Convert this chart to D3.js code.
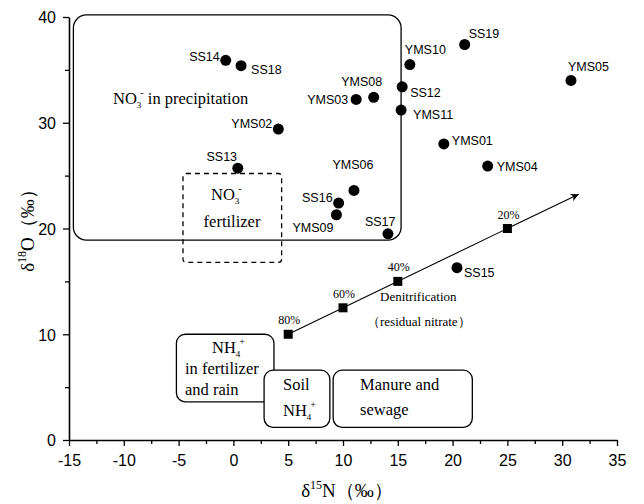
<!DOCTYPE html>
<html>
<head>
<meta charset="utf-8">
<script src="https://cdn.jsdelivr.net/npm/d3@7"></script>
<style>
  html, body { margin: 0; padding: 0; background: #fff; }
  svg { display: block; }
</style>
</head>
<body>
<svg id="chart" width="644" height="504"></svg>
<script>
// Sample isotope values: δ15N and δ18O of nitrate (‰)
const sampleNames = ["SS14","SS18","YMS02","SS13","YMS03","YMS08","YMS10","SS12","YMS11",
  "SS19","YMS05","YMS01","YMS04","YMS06","SS16","YMS09","SS17","SS15"];
const d15N = [-0.7, 0.7, 4.1, 0.4, 11.2, 12.8, 16.1, 15.4, 15.3,
  21.1, 30.8, 19.2, 23.2, 11.0, 9.6, 9.4, 14.1, 20.4];
const d18O = [35.9, 35.4, 29.4, 25.7, 32.2, 32.4, 35.5, 33.4, 31.2,
  37.4, 34.0, 28.0, 25.9, 23.6, 22.4, 21.3, 19.5, 16.3];

// Denitrification trend (fraction of nitrate remaining)
const denitLabels = ["80%", "60%", "40%", "20%"];
const denitN = [5, 10, 15, 25];
const denitO = [10, 12.5, 15, 20];
const denitEnd = [31.5, 23.25];

// Source fields: [xMin, xMax, yMin, yMax] in ‰
const srcPrecip = [-14.6, 15.3, 18.9, 40.2];
const srcNO3Fert = [-4.6, 4.4, 16.8, 25.2];
const srcNH4Fert = [-5.2, 3.7, 3.6, 10.0];
const srcSoil = [2.8, 8.8, 1.2, 6.6];
const srcManure = [9.1, 21.8, 1.2, 6.6];

const xTicks = [-15, -10, -5, 0, 5, 10, 15, 20, 25, 30, 35];
const yTicks = [0, 10, 20, 30, 40];

const SANS = "'Liberation Sans', Arial, Helvetica, sans-serif";
const SERIF = "'Liberation Serif', 'Times New Roman', Times, serif";

const svg = d3.select("#chart");
const x = d3.scaleLinear().domain([-15, 35]).range([69, 617]);
const y = d3.scaleLinear().domain([0, 40]).range([440, 17]);

function serifText(xp, yp, size) {
  return svg.append("text").style("font-family", SERIF).attr("font-size", size)
    .attr("x", xp).attr("y", yp).attr("fill", "#000");
}

// ---- source field boxes ----
function box(r, rx, dashed) {
  return svg.append("rect")
    .attr("x", x(r[0])).attr("y", y(r[3]))
    .attr("width", x(r[1]) - x(r[0])).attr("height", y(r[2]) - y(r[3]))
    .attr("rx", rx).attr("ry", rx)
    .attr("fill", dashed ? "none" : "#fff")
    .attr("stroke", "#000").attr("stroke-width", 1.3)
    .attr("stroke-dasharray", dashed ? "5,4" : null);
}
box(srcPrecip, 13, false).attr("fill", "none");
box(srcNO3Fert, 3, true);
box(srcNH4Fert, 9, false);
box(srcSoil, 9, false);
box(srcManure, 9, false);

// ---- axes ----
function minorVals(major) {
  const out = [];
  for (let i = 0; i < major.length - 1; i++) out.push((major[i] + major[i + 1]) / 2);
  return out;
}
const fmt = d => String(d);
const gx = svg.append("g").attr("transform", `translate(0,${y(0)})`);
gx.call(d3.axisBottom(x).tickValues(xTicks).tickSize(6).tickSizeOuter(0).tickFormat(fmt));
gx.append("g").call(d3.axisBottom(x).tickValues(minorVals(xTicks)).tickSize(4).tickFormat(""))
  .select(".domain").remove();
const gy = svg.append("g").attr("transform", `translate(${x(-15)},0)`);
gy.call(d3.axisLeft(y).tickValues(yTicks).tickSize(6).tickSizeOuter(0).tickFormat(fmt));
gy.append("g").call(d3.axisLeft(y).tickValues(minorVals(yTicks)).tickSize(4).tickFormat(""))
  .select(".domain").remove();

svg.selectAll(".domain").attr("stroke", "#000").attr("stroke-width", 1.6);
svg.selectAll(".tick line").attr("stroke", "#000").attr("stroke-width", 1.3);
svg.selectAll("g").attr("font-family", null);
gx.selectAll(".tick text").attr("font-size", 16).attr("dy", "1.05em").attr("fill", "#000");
gy.selectAll(".tick text").attr("font-size", 16).attr("dx", "-0.25em").attr("dy", "0.36em").attr("fill", "#000");
svg.selectAll(".tick text").style("font-family", SANS);

// ---- axis titles ----
const xt = serifText(347, 497, 19).attr("text-anchor", "middle");
xt.append("tspan").text("δ");
xt.append("tspan").attr("font-size", 12).attr("dy", -8).text("15");
xt.append("tspan").attr("dy", 8).text("N（‰）");

const yt = serifText(0, 0, 19).attr("x", null).attr("y", null)
  .attr("transform", "translate(34,226) rotate(-90)").attr("text-anchor", "middle");
yt.append("tspan").text("δ");
yt.append("tspan").attr("font-size", 12).attr("dy", -8).text("18");
yt.append("tspan").attr("dy", 8).text("O（‰）");

// ---- denitrification line ----
const defs = svg.append("defs");
defs.append("marker").attr("id", "arrow").attr("viewBox", "0 0 10 10")
  .attr("refX", 10).attr("refY", 5).attr("markerWidth", 12).attr("markerHeight", 8)
  .attr("markerUnits", "userSpaceOnUse").attr("orient", "auto")
  .append("path").attr("d", "M0,0 L10,5 L0,10 L3,5 Z").attr("fill", "#000");

svg.append("line")
  .attr("x1", x(denitN[0])).attr("y1", y(denitO[0]))
  .attr("x2", x(denitEnd[0])).attr("y2", y(denitEnd[1]))
  .attr("stroke", "#000").attr("stroke-width", 1.1).attr("marker-end", "url(#arrow)");

svg.selectAll(".dsq").data(denitN).enter().append("rect").attr("class", "dsq")
  .attr("x", d => x(d) - 4.5).attr("y", (d, i) => y(denitO[i]) - 4.5)
  .attr("width", 9).attr("height", 9).attr("fill", "#000");

svg.selectAll(".dlab").data(denitLabels).enter().append("text")
  .style("font-family", SERIF).attr("font-size", 12).attr("text-anchor", "middle")
  .attr("x", (d, i) => x(denitN[i]) + 1).attr("y", (d, i) => y(denitO[i]) - 10)
  .text(d => d);

serifText(380, 301, 13).text("Denitrification");
serifText(367, 326, 13).text("（residual nitrate）");

// ---- sample points ----
svg.selectAll(".pt").data(sampleNames).enter().append("circle").attr("class", "pt")
  .attr("cx", (d, i) => x(d15N[i])).attr("cy", (d, i) => y(d18O[i]))
  .attr("r", 5.5).attr("fill", "#000");

// label offsets (px) relative to each point
const labelPlacement = {
  SS14: [-6, 1, "end"], SS18: [10, 8, "start"], YMS02: [-6, -1, "end"], SS13: [-16, -7, "middle"],
  YMS03: [-8, 5, "end"], YMS08: [-12, -11, "middle"], YMS10: [-5, -11, "start"], SS12: [8, 10, "start"],
  YMS11: [12, 9, "start"], SS19: [4, -6, "start"], YMS05: [-3, -9, "start"], YMS01: [8, 1, "start"],
  YMS04: [9, 5, "start"], YMS06: [-1, -21, "middle"], SS16: [-6, -1, "end"], YMS09: [-3, 17, "end"],
  SS17: [-23, -8, "start"], SS15: [7, 9, "start"]
};
svg.selectAll(".plab").data(sampleNames).enter().append("text")
  .style("font-family", SANS).attr("font-size", 12.5)
  .attr("x", (d, i) => x(d15N[i]) + labelPlacement[d][0])
  .attr("y", (d, i) => y(d18O[i]) + labelPlacement[d][1])
  .attr("text-anchor", d => labelPlacement[d][2])
  .text(d => d);

// ---- source labels ----
function chem(xp, yp, base, sub, sup, rest, anchor) {
  const t = serifText(xp, yp, 16.5).attr("text-anchor", anchor || "start");
  t.append("tspan").text(base);
  t.append("tspan").attr("font-size", 9).attr("dy", 4).text(sub);
  t.append("tspan").attr("font-size", 10).attr("dx", -1).attr("dy", -12).text(sup);
  if (rest) t.append("tspan").attr("dy", 8).text(rest);
  return t;
}
chem(113, 104, "NO", "3", "-", " in precipitation");
chem(211, 200, "NO", "3", "-");
serifText(232, 227, 16.5).attr("text-anchor", "middle").text("fertilizer");

chem(212, 353, "NH", "4", "+");
serifText(185, 374, 16.5).text("in fertilizer");
serifText(185, 395, 16.5).text("and rain");

serifText(283, 390, 16.5).text("Soil");
chem(283, 416, "NH", "4", "+");

serifText(360, 390, 16.5).text("Manure and");
serifText(360, 415, 16.5).text("sewage");
</script>
</body>
</html>
